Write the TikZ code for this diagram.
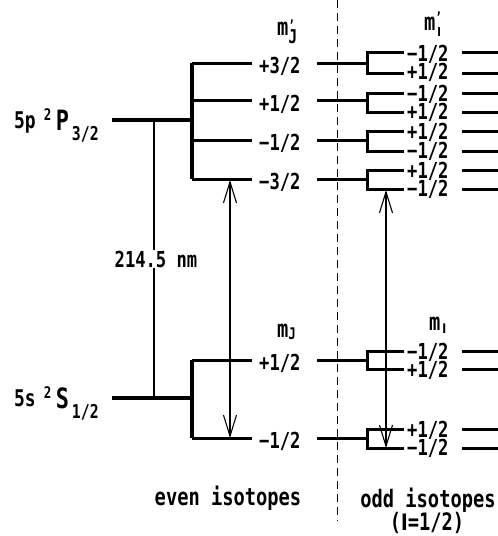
\documentclass[tikz,border=0pt]{standalone}
\usepackage{fontspec}
\setmainfont{DejaVu Sans Mono}[FakeStretch=0.78]
\newfontfamily\barfont{Liberation Sans}
\usetikzlibrary{arrows.meta}
\newcommand{\fsz}[1]{\fontsize{#1}{#1}\selectfont}
\begin{document}
\begin{tikzpicture}[x=1pt,y=-1pt,
  lvl/.style={line width=3.2pt},
  sub/.style={line width=3pt, line join=miter},
  thinln/.style={line width=1.1pt},
  barb/.tip={Straight Barb[length=21pt,width=13pt]},
  arr/.style={line width=1.1pt, barb-barb},
  lab/.style={font=\bfseries\fsz{22}, inner sep=0pt},
  olab/.style={font=\bfseries\fsz{22}, inner sep=0pt, anchor=west, text height=11pt, text depth=1pt},
  big/.style={font=\bfseries\fsz{24}, inner sep=0pt}]
\useasboundingbox (0,0) rectangle (498,536);

% term labels
\node[lab, anchor=base west] (P) at (14,128)
  {{\fsz{23}5p}\hspace{8pt}\raisebox{8pt}{\fsz{16}2}\hspace{4.5pt}\raisebox{-2pt}{\fsz{28}P}\hspace{3pt}\raisebox{-12pt}{\fsz{19}3/2}};
\node[lab, anchor=base west] (S) at (14,406)
  {{\fsz{23}5s}\hspace{8pt}\raisebox{8pt}{\fsz{16}2}\hspace{4.5pt}\raisebox{-2pt}{\fsz{28}S}\hspace{3pt}\raisebox{-12pt}{\fsz{19}1/2}};

% 5p level and Zeeman sublevels
\coordinate (pL) at (112,120); \coordinate (pR) at (192,120);
\draw[lvl] (pL) -- (pR);
\coordinate (pT) at (192,63); \coordinate (pB) at (192,179);
\draw[lvl] (pT) -- (pB);
\foreach \y/\n in {63/a,100/b,140/c,179/d}
  \draw[sub] (192,\y) coordinate (el\n) -- (252,\y) coordinate (er\n);

% 5s level and sublevels
\coordinate (sL) at (112,398); \coordinate (sR) at (192,398);
\draw[lvl] (sL) -- (sR);
\coordinate (sT) at (192,360); \coordinate (sB) at (192,438);
\draw[lvl] (sT) -- (sB);
\foreach \y/\n in {360/e,438/f}
  \draw[sub] (192,\y) coordinate (el\n) -- (252,\y) coordinate (er\n);

% m_J labels
\node[lab, anchor=west] (j1) at (259,66) {+3/2};
\node[lab, anchor=west] (j2) at (259,104) {+1/2};
\node[lab, anchor=west] (j3) at (259,143) {−1/2};
\node[lab, anchor=west] (j4) at (259,182) {−3/2};
\node[lab, anchor=west] (j5) at (259,363) {+1/2};
\node[lab, anchor=west] (j6) at (259,441) {−1/2};

% m headers
\node[lab, anchor=base west] (mJp) at (277,35)
  {{\fsz{24}m}\rlap{\raisebox{5pt}{\fsz{14}'}}\raisebox{-8pt}{\fsz{19}J}};
\node[lab, anchor=base west] (mIp) at (424,30)
  {{\fsz{24}m}\rlap{\raisebox{8pt}{\fsz{14}'}}\hspace{2pt}\raisebox{-6pt}{\barfont\fsz{13}I}};
\node[lab, anchor=base west] (mJ) at (277,337)
  {{\fsz{24}m}\raisebox{-2pt}{\fsz{16}J}};
\node[lab, anchor=base west] (mI) at (429,330)
  {{\fsz{24}m}\hspace{2pt}\raisebox{-3pt}{\barfont\fsz{14}I}};

% wavelength
\node[lab] (wl) at (156,259) {214.5 nm};
\coordinate (wT) at (154,120); \coordinate (wB) at (154,398);
\draw[thinln] (wT) -- (wT |- wl.north);
\draw[thinln] (wT |- wl.south) -- (wB);

% separator
\coordinate (dT) at (337,0); \coordinate (dB) at (337,521);
\draw[line width=0.9pt, dash pattern=on 8pt off 5pt] (dT) -- (dB);

% connectors to odd-isotope sublevels
\foreach \y in {63,100,140,179,360,438}
  \draw[sub] (317,\y) -- (367,\y);

% odd isotope hyperfine pairs
\foreach \u/\l in {52/73,93/112,131/151,170/189,351/369,429/448}{
  \draw[sub] (404,\u) -- (367,\u) -- (367,\l) -- (404,\l);
  \draw[sub] (462,\u) -- (500,\u);
  \draw[sub] (462,\l) -- (500,\l);
}
\foreach \y/\t/\n in {56/−1\slash 2/a,74/+1\slash 2/b,96/−1\slash 2/c,114/+1\slash 2/d,
                      134/+1\slash 2/e,153/−1\slash 2/f,173/+1\slash 2/g,191/−1\slash 2/h,
                      354/−1\slash 2/i,372/+1\slash 2/j,432/+1\slash 2/k,450/−1\slash 2/l}
  \node[olab] (o\n) at (407,\y) {\t};

% transitions
\coordinate (ea1) at (230,180); \coordinate (ea2) at (230,438);
\draw[arr] (ea1) -- (ea2);
\coordinate (oa1) at (386,190); \coordinate (oa2) at (386,448);
\draw[arr] (oa1) -- (oa2);

% bottom captions
\node[big] (even) at (228,498) {even isotopes};
\node[big] (odd) at (428,500) {odd isotopes};
\node[big] (spin) at (427,523) {(\barfont I\bfseries\fontspec{DejaVu Sans Mono}[FakeStretch=0.78]=1/2)};
\end{tikzpicture}
\end{document}
